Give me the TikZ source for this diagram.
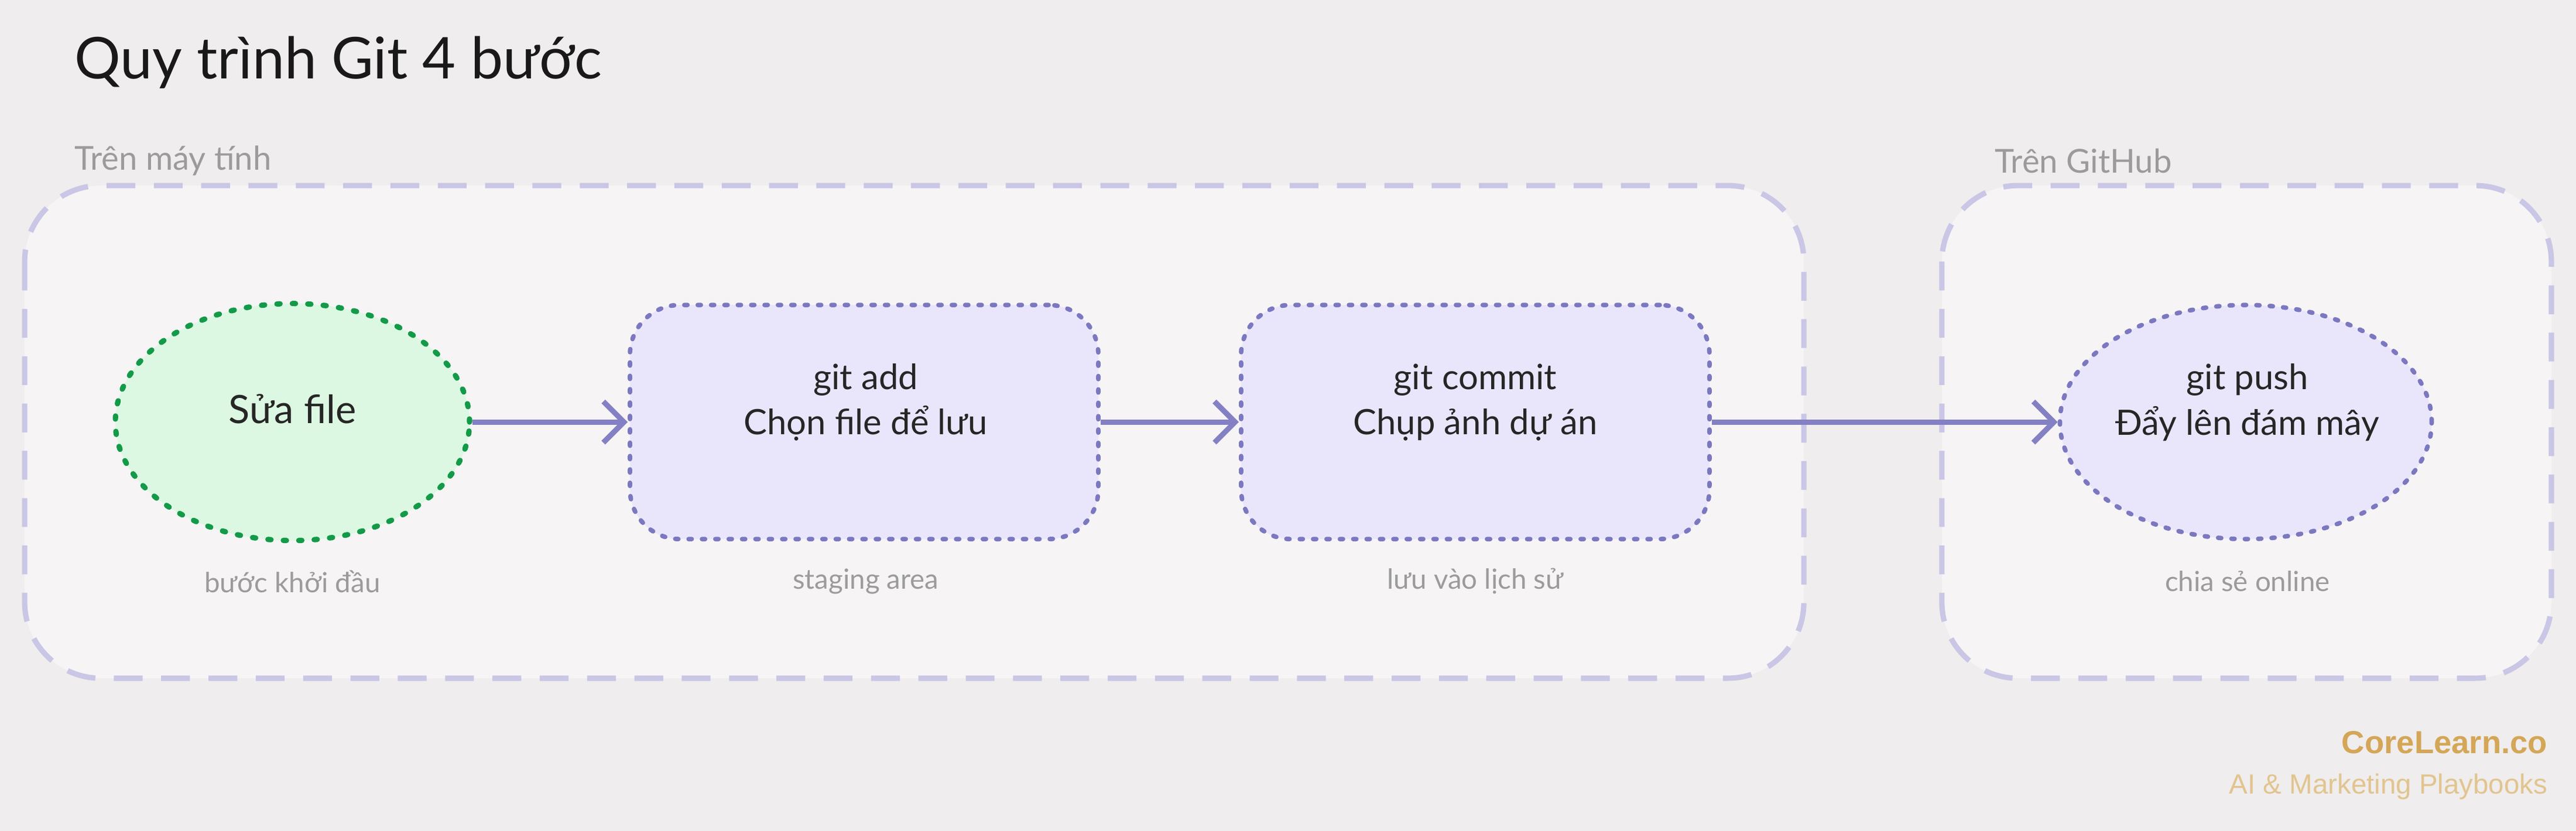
\documentclass[tikz,border=0pt]{standalone}
\usepackage{fontspec}
\setmainfont{Lato}
\newfontfamily\wmfont{Liberation Sans}
\usetikzlibrary{arrows.meta,shapes.geometric}
\definecolor{bg}{HTML}{EFEDED}
\definecolor{grpfill}{HTML}{F6F4F5}
\definecolor{grpline}{HTML}{C9C6E6}
\definecolor{greenfill}{HTML}{DCF8E2}
\definecolor{greenline}{HTML}{139A48}
\definecolor{purfill}{HTML}{E9E6FC}
\definecolor{purline}{HTML}{7B78C0}
\definecolor{arrowc}{HTML}{8480C4}
\definecolor{graytxt}{HTML}{9B9B9B}
\definecolor{orange}{HTML}{D4A657}
\definecolor{lorange}{HTML}{E2C48F}
\tikzset{
  grp/.style={draw=grpline, fill=grpfill, line width=2.6pt, dash pattern=on 14pt off 9pt, rounded corners=1.3cm},
  procbox/.style={draw=purline, fill=purfill, line width=2.2pt, dash pattern=on 1.5pt off 5pt, line cap=round, rounded corners=0.85cm, minimum width=8.0cm, minimum height=4.0cm},
  procell/.style={ellipse, draw=purline, fill=purfill, line width=2.2pt, dash pattern=on 1.5pt off 5pt, line cap=round, minimum width=6.35cm, minimum height=4.0cm},
  greenell/.style={ellipse, draw=greenline, fill=greenfill, line width=2.6pt, dash pattern=on 1.5pt off 6pt, line cap=round, minimum width=6.05cm, minimum height=4.05cm},
  inner/.style={align=center, font=\fontsize{17}{22}\selectfont, text=black!85},
  sub/.style={text=graytxt, font=\fontsize{13.5}{16}\selectfont},
  grplbl/.style={text=graytxt, anchor=west, font=\fontsize{16}{20}\selectfont},
  conn/.style={draw=arrowc, line width=2.6pt, -{Straight Barb[length=10pt,width=20pt,line width=2.6pt]}}
}
\begin{document}
\begin{tikzpicture}[x=0.02806cm,y=-0.02806cm]
\fill[bg] (0,0) rectangle (1568,506);
\useasboundingbox (0,0) rectangle (1568,506);
\node[anchor=west, font=\fontsize{28}{34}\selectfont, text=black!90] (title) at (41,38) {Quy trình Git 4 bước};
\node[grplbl] (lg) at (41,98) {Trên máy tính};
\node[grplbl] (rg) at (1210,98) {Trên GitHub};
\draw[grp] (15,113) rectangle (1098,413);
\draw[grp] (1182,113) rectangle (1553,413);
\node[greenell] (a) at (178,257) {};
\node[procbox] (b) at (526,257) {};
\node[procbox] (c) at (898,257) {};
\node[procell] (d) at (1367,257) {};
\node[inner, font=\fontsize{19}{24}\selectfont] (ta) at (178,249) {Sửa file};
\node[inner] (tb) at (527,245) {git add\\Chọn file để lưu};
\node[inner] (tc) at (898,245) {git commit\\Chụp ảnh dự án};
\node[inner] (td) at (1368,245) {git push\\Đẩy lên đám mây};
\node[sub] (sa) at (178,354) {bước khởi đầu};
\node[sub] (sb) at (527,354) {staging area};
\node[sub] (sc) at (898,354) {lưu vào lịch sử};
\node[sub] (sd) at (1368,354) {chia sẻ online};
\draw[conn] (a) -- (b);
\draw[conn] (b) -- (c);
\draw[conn] (c) -- (d);
\node[anchor=east, text=orange, font=\wmfont\bfseries\fontsize{15.5}{18}\selectfont] (wm1) at (1555,452) {CoreLearn.co};
\node[anchor=east, text=lorange, font=\wmfont\fontsize{13.5}{16}\selectfont] (wm2) at (1555,479) {AI \& Marketing Playbooks};
\end{tikzpicture}
\end{document}
